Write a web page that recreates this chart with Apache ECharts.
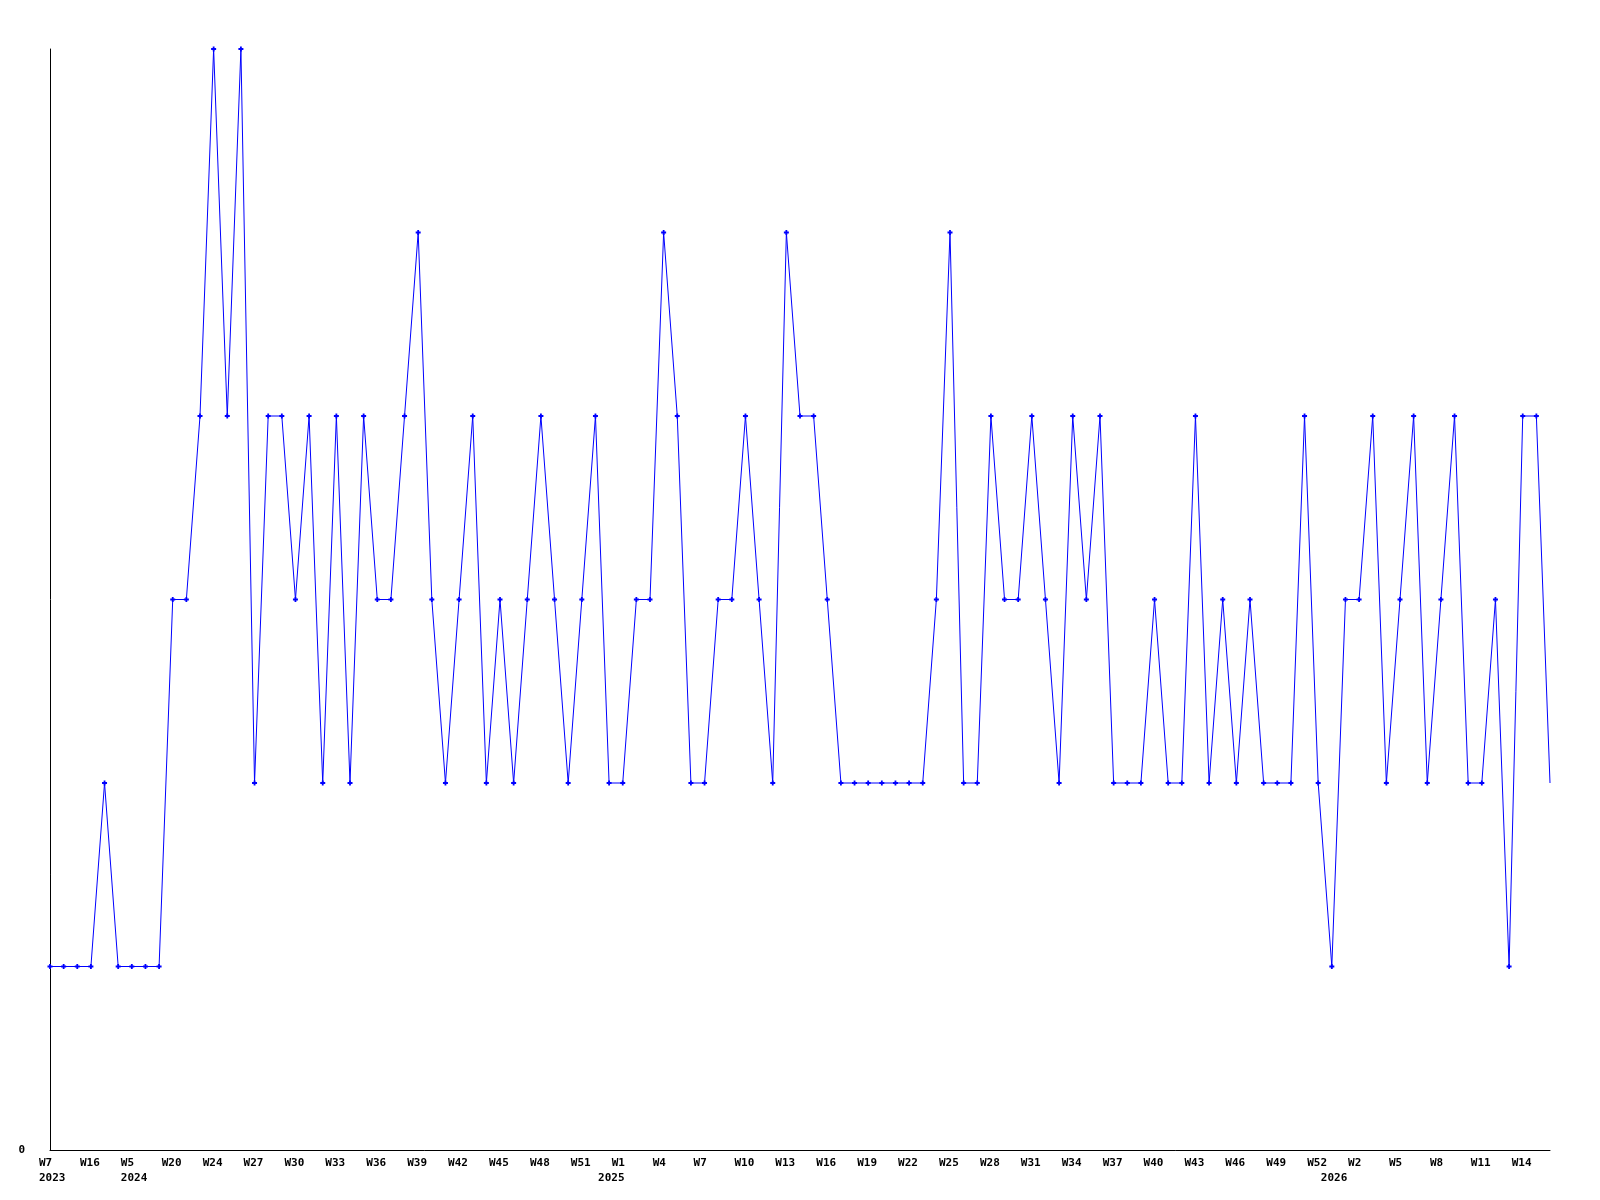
<!DOCTYPE html>
<html>
<head>
<meta charset="utf-8">
<script src="https://cdn.jsdelivr.net/npm/echarts@6/dist/echarts.min.js"></script>
<style>
  html, body { margin: 0; padding: 0; background: #fff; }
  #chart { width: 1600px; height: 1200px; }
</style>
</head>
<body>
<div id="chart"></div>
<script>
// week numbers per year, in the order they appear on the axis
var weeks2023 = [7, 9, 12, 16, 21, 33];
var weeks2024 = [5, 10, 15, 20, 22, 23, 24, 25, 26, 27, 28, 29, 30, 31, 32, 33, 34, 35, 36, 37, 38, 39,
                 40, 41, 42, 43, 44, 45, 46, 47, 48, 49, 50, 51, 52];
var weeks2025 = [0, 1, 2, 3, 4, 5, 6, 7, 8, 9, 10, 11, 12, 13, 14, 15, 16, 17, 18, 19, 20, 21, 22, 23, 24, 25, 26,
                 27, 28, 29, 30, 31, 32, 33, 34, 35, 36, 37, 38, 39, 40, 41, 42, 43, 44, 45, 46, 47, 48, 49, 50, 51, 52];
var weeks2026 = [0, 1, 2, 3, 4, 5, 6, 7, 8, 9, 10, 11, 12, 13, 14, 15, 16];

var values = [
  1, 1, 1, 1, 2, 1, 1, 1, 1,
  3, 3, 4, 6, 4, 6, 2, 4, 4, 3,
  4, 2, 4, 2, 4, 3, 3, 4, 5, 3,
  2, 3, 4, 2, 3, 2, 3, 4, 3, 2,
  3, 4, 2, 2, 3, 3, 5, 4, 2, 2,
  3, 3, 4, 3, 2, 5, 4, 4, 3, 2,
  2, 2, 2, 2, 2, 2, 3, 5, 2, 2,
  4, 3, 3, 4, 3, 2, 4, 3, 4, 2,
  2, 2, 3, 2, 2, 4, 2, 3, 2, 3,
  2, 2, 2, 4, 2, 1, 3, 3, 4, 2,
  3, 4, 2, 3, 4, 2, 2, 3, 1, 4,
  4, 2
];

var categories = [];
var firstOfYear = {};
[[2023, weeks2023], [2024, weeks2024], [2025, weeks2025], [2026, weeks2026]].forEach(function (yw) {
    firstOfYear[categories.length] = yw[0];
    yw[1].forEach(function (w) {
        categories.push(yw[0] + '-W' + w);
    });
});

// last week is still running: no marker on it
var seriesData = values.map(function (v, i) {
    return i === values.length - 1 ? { value: v, symbol: 'none' } : v;
});

var plusSymbol = 'path://M1.6,0L3.4,0L3.4,1.6L5,1.6L5,3.4L3.4,3.4L3.4,5L1.6,5L1.6,3.4L0,3.4L0,1.6L1.6,1.6Z';
var labelFont = {
    color: '#000',
    fontFamily: 'DejaVu Sans Mono',
    fontWeight: 'bold',
    fontSize: 11
};

var chart = echarts.init(document.getElementById('chart'), null, { renderer: 'canvas' });

chart.setOption({
    animation: false,
    backgroundColor: '#fff',
    grid: {
        left: 50,
        right: 50,
        top: 49,
        bottom: 50,
        containLabel: false
    },
    xAxis: {
        type: 'category',
        boundaryGap: false,
        data: categories,
        axisLine: { lineStyle: { color: '#000', width: 1 } },
        axisTick: { show: false },
        splitLine: { show: false },
        axisLabel: Object.assign({
            margin: 6,
            lineHeight: 15,
            align: 'center',
            interval: function (i) {
                return i % 3 === 0 || firstOfYear[i] !== undefined;
            },
            formatter: function (val, i) {
                var wk = val.split('-')[1];
                var txt = '{t|' + (i % 3 === 0 ? 'W' + parseInt(wk.slice(1), 10) : ' ') + '}';
                if (firstOfYear[i] !== undefined) {
                    txt += '\n{t|' + firstOfYear[i] + '}';
                }
                return txt;
            },
            rich: {
                // week and year share a left edge a little before the point
                t: Object.assign({ width: 22, align: 'left', lineHeight: 15 }, labelFont)
            }
        }, labelFont)
    },
    yAxis: {
        type: 'value',
        min: 0,
        max: 6,
        interval: 6,
        axisLine: { show: true, lineStyle: { color: '#000', width: 1 } },
        axisTick: { show: false },
        splitLine: { show: false },
        axisLabel: Object.assign({
            margin: 25,
            formatter: function (v) {
                return v === 0 ? '0' : '';
            }
        }, labelFont)
    },
    series: [{
        type: 'line',
        data: seriesData,
        symbol: plusSymbol,
        symbolSize: 5,
        showAllSymbol: true,
        lineStyle: { color: '#0000ff', width: 1 },
        itemStyle: { color: '#0000ff', borderWidth: 0 }
    }]
});
</script>
</body>
</html>
